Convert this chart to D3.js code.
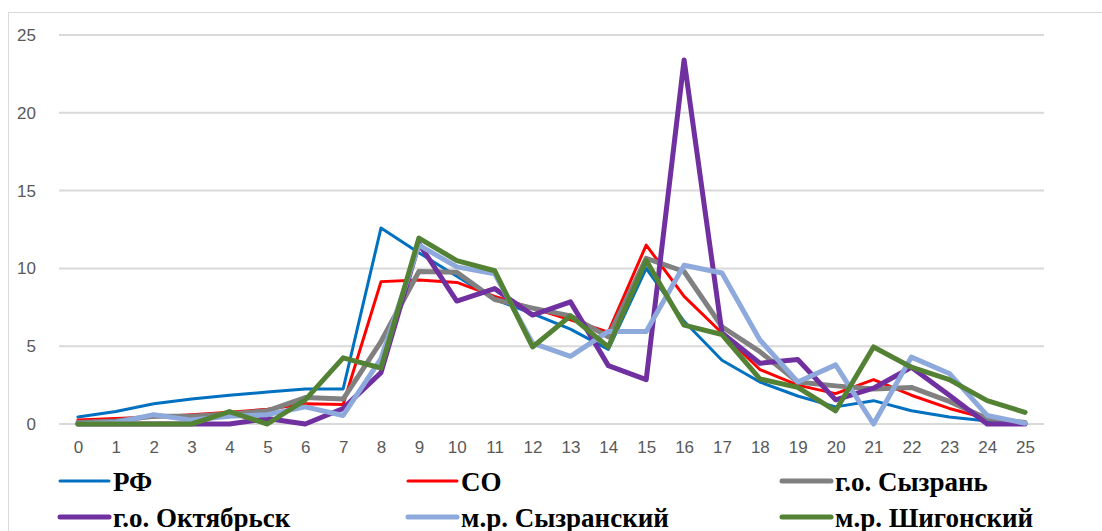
<!DOCTYPE html>
<html><head><meta charset="utf-8">
<script src="https://cdn.jsdelivr.net/npm/d3@7"></script>
<style>body{margin:0;background:#fff;}svg{display:block;}
.leg{font-family:"Liberation Serif","Tinos","Times New Roman","Times","Nimbus Roman","FreeSerif","DejaVu Serif","Noto Serif",serif;font-weight:bold;font-size:27px;fill:#000;}
.ax text{font-family:"Liberation Sans",Arial,sans-serif;font-size:17px;fill:#595959;}
</style>
</head><body>
<svg id="c" width="1102" height="531"></svg>
<script>
const categories = d3.range(0, 26).map(String);
const yTicks = [0, 5, 10, 15, 20, 25];
const seriesNames = ["РФ", "СО", "г.о. Сызрань", "г.о. Октябрьск", "м.р. Сызранский", "м.р. Шигонский"];
const rf        = [0.45,0.8,1.3,1.6,1.85,2.05,2.25,2.25,12.6,11.0,9.5,8.0,7.1,6.1,4.8,10.0,6.6,4.1,2.7,1.8,1.1,1.5,0.85,0.45,0.2,0.0];
const so        = [0.25,0.35,0.45,0.6,0.75,0.95,1.3,1.25,9.15,9.25,9.1,8.2,7.45,6.7,5.9,11.5,8.2,5.85,3.5,2.5,1.95,2.85,1.85,1.0,0.35,0.0];
const syzran    = [0.1,0.2,0.5,0.5,0.65,0.85,1.7,1.6,5.3,9.8,9.75,8.0,7.45,6.95,5.6,10.65,9.8,6.25,4.65,2.7,2.45,2.25,2.35,1.45,0.35,0.1];
const oktyabrsk = [0,0,0,0,0,0.35,0,1.0,3.3,11.6,7.9,8.7,7.0,7.85,3.75,2.85,23.4,5.85,3.9,4.15,1.55,2.3,3.65,1.85,0,0];
const syzrRayon = [0,0.1,0.6,0.25,0.5,0.6,1.1,0.55,4.2,11.5,10.1,9.65,5.2,4.35,5.95,5.95,10.2,9.7,5.4,2.7,3.8,0.0,4.3,3.25,0.55,0.05];
const shigony   = [0,0,0,0,0.8,0,1.55,4.25,3.6,11.95,10.5,9.85,4.95,6.95,4.95,10.5,6.35,5.75,2.9,2.35,0.85,4.95,3.65,2.85,1.5,0.75];

const seriesValues = [rf, so, syzran, oktyabrsk, syzrRayon, shigony];
const colors = ["#0070C0", "#FF0000", "#808080", "#7030A0", "#8EA9DB", "#548235"];
const widths = [3, 3, 5, 5, 5, 5];

const svg = d3.select("#c");
svg.append("rect").attr("x", 8.5).attr("y", 12.5).attr("width", 1200).attr("height", 600)
  .attr("fill", "none").attr("stroke", "#D9D9D9").attr("stroke-width", 1);

const x = d3.scalePoint().domain(categories).range([59, 1044]).padding(0.5);
const y = d3.scaleLinear().domain([0, 25]).range([424, 35]);

svg.append("g").selectAll("line").data(yTicks).join("line")
  .attr("x1", 59).attr("x2", 1044)
  .attr("y1", d => y(d)).attr("y2", d => y(d))
  .attr("stroke", "#D9D9D9").attr("stroke-width", 2);

const yAxis = d3.axisLeft(y).tickValues(yTicks).tickSize(0).tickPadding(0);
const gy = svg.append("g").attr("class", "ax").attr("transform", "translate(36,0)").call(yAxis);
gy.select(".domain").remove();
gy.attr("font-family", null).attr("font-size", null);

const xAxis = d3.axisBottom(x).tickSize(0).tickPadding(0);
const gx = svg.append("g").attr("class", "ax").attr("transform", "translate(0,441)").call(xAxis);
gx.select(".domain").remove();
gx.attr("font-family", null).attr("font-size", null);
svg.selectAll(".ax text").attr("fill", null);

const line = d3.line().x((d, i) => x(categories[i])).y(d => y(d));
seriesValues.forEach((vals, k) => {
  svg.append("path").datum(vals).attr("d", line)
    .attr("fill", "none").attr("stroke", colors[k]).attr("stroke-width", widths[k])
    .attr("stroke-linejoin", "round").attr("stroke-linecap", "round");
});

const legX = [60, 408, 782];
const legY = [481, 517];
seriesNames.forEach((name, k) => {
  const col = k % 3, row = Math.floor(k / 3);
  const g = svg.append("g").attr("transform", `translate(${legX[col]},${legY[row]})`);
  g.append("line").attr("x1", 0).attr("x2", 49).attr("y1", 0).attr("y2", 0)
    .attr("stroke", colors[k]).attr("stroke-width", widths[k]).attr("stroke-linecap", "round");
  g.append("text").attr("class", "leg").attr("x", 53).attr("y", 10).text(name);
});
</script>
</body></html>
